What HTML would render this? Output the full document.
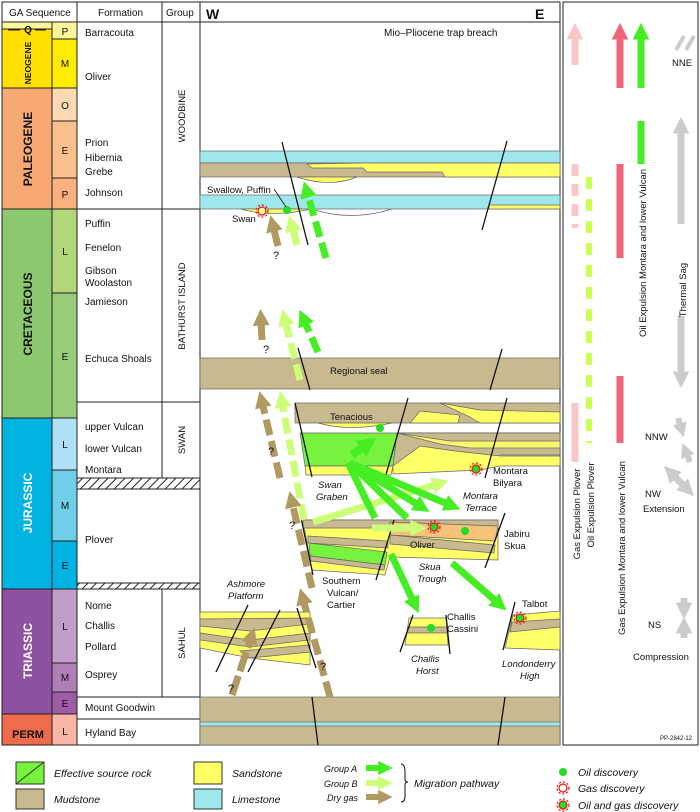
<!DOCTYPE html>
<html><head><meta charset="utf-8"><style>
html,body{margin:0;padding:0;background:#fff}
svg{display:block;font-family:"Liberation Sans",sans-serif}
</style></head><body>
<svg width="700" height="812" viewBox="0 0 700 812" xmlns="http://www.w3.org/2000/svg">
<defs>
<pattern id="hatch" width="6" height="6" patternUnits="userSpaceOnUse" patternTransform="rotate(45)"><rect width="6" height="6" fill="#fff"/><line x1="0" y1="0" x2="0" y2="6" stroke="#222" stroke-width="2"/></pattern>
<marker id="hA" markerWidth="2.4" markerHeight="2.4" refX="0.8" refY="1.2" orient="auto" markerUnits="strokeWidth"><path d="M0,0 L2.4,1.2 L0,2.4Z" fill="#44ee22"/></marker>
<marker id="hB" markerWidth="2.4" markerHeight="2.4" refX="0.8" refY="1.2" orient="auto" markerUnits="strokeWidth"><path d="M0,0 L2.4,1.2 L0,2.4Z" fill="#ccff77"/></marker>
<marker id="hT" markerWidth="2.4" markerHeight="2.4" refX="0.8" refY="1.2" orient="auto" markerUnits="strokeWidth"><path d="M0,0 L2.4,1.2 L0,2.4Z" fill="#b09a62"/></marker>
<marker id="hR" markerWidth="2.4" markerHeight="2.4" refX="0.8" refY="1.2" orient="auto" markerUnits="strokeWidth"><path d="M0,0 L2.4,1.2 L0,2.4Z" fill="#ee6677"/></marker>
<marker id="hP" markerWidth="2.4" markerHeight="2.4" refX="0.8" refY="1.2" orient="auto" markerUnits="strokeWidth"><path d="M0,0 L2.4,1.2 L0,2.4Z" fill="#f8c8c8"/></marker>
<marker id="hG" markerWidth="2.4" markerHeight="2.4" refX="0.8" refY="1.2" orient="auto" markerUnits="strokeWidth"><path d="M0,0 L2.4,1.2 L0,2.4Z" fill="#cccccc"/></marker>
<marker id="hGs" markerWidth="2.4" markerHeight="2.4" refX="1.6" refY="1.2" orient="auto" markerUnits="strokeWidth"><path d="M2.4,0 L0,1.2 L2.4,2.4Z" fill="#cccccc"/></marker>
</defs>

<g stroke="#222" stroke-width="1">
<rect x="2" y="22" width="50" height="7" fill="#fff59a"/>
<rect x="2" y="29" width="50" height="59" fill="#ffe000"/>
<rect x="2" y="88" width="50" height="121" fill="#f7a873"/>
<rect x="2" y="209" width="50" height="209" fill="#8cc96e"/>
<rect x="2" y="418" width="50" height="171" fill="#00b3e3"/>
<rect x="2" y="589" width="50" height="125" fill="#8f52a0"/>
<rect x="2" y="714" width="50" height="31" fill="#ef6b4c"/>
<rect x="52" y="22" width="25" height="17" fill="#fff59a"/>
<rect x="52" y="39" width="25" height="49" fill="#ffec00"/>
<rect x="52" y="88" width="25" height="33" fill="#fdd9b3"/>
<rect x="52" y="121" width="25" height="57" fill="#fcc08f"/>
<rect x="52" y="178" width="25" height="31" fill="#fbb07f"/>
<rect x="52" y="209" width="25" height="84" fill="#b3d678"/>
<rect x="52" y="293" width="25" height="125" fill="#97cd78"/>
<rect x="52" y="418" width="25" height="52" fill="#b0e0f5"/>
<rect x="52" y="470" width="25" height="71" fill="#6fcfe9"/>
<rect x="52" y="541" width="25" height="48" fill="#00b3e3"/>
<rect x="52" y="589" width="25" height="74" fill="#c09ec9"/>
<rect x="52" y="663" width="25" height="29" fill="#b17fb7"/>
<rect x="52" y="692" width="25" height="22" fill="#9e5ba6"/>
<rect x="52" y="714" width="25" height="31" fill="#f8b5a5"/>
<rect x="77" y="22" width="123" height="723" fill="#fff"/>
<rect x="2" y="2" width="558" height="20" fill="#fff"/>
<line x1="77" y1="2" x2="77" y2="745"/>
<line x1="162" y1="2" x2="162" y2="478"/>
<line x1="162" y1="589" x2="162" y2="697"/>
<line x1="200" y1="2" x2="200" y2="745"/>
<line x1="77" y1="209" x2="200" y2="209"/>
<line x1="77" y1="402" x2="200" y2="402"/>
<line x1="77" y1="589" x2="200" y2="589"/>
<line x1="77" y1="697" x2="200" y2="697"/>
<line x1="77" y1="719" x2="200" y2="719"/>
<rect x="77" y="478" width="123" height="11" fill="url(#hatch)"/>
<rect x="77" y="583" width="123" height="6" fill="url(#hatch)"/>
<rect x="2" y="2" width="558" height="743" fill="none"/>
<rect x="563" y="2" width="135" height="743" fill="#fff"/>
</g>
<line x1="8" y1="30" x2="20" y2="30" stroke="#222"/><line x1="35" y1="30" x2="46" y2="30" stroke="#222"/>
<g font-size="10" fill="#111">
<text x="9" y="16">GA Sequence</text><text x="98" y="16">Formation</text><text x="166" y="16">Group</text>
<text x="206" y="19" font-size="14" font-weight="bold">W</text><text x="535" y="19" font-size="14" font-weight="bold">E</text>
<text x="384" y="36">Mio–Pliocene trap breach</text>
<g text-anchor="middle"><text x="65" y="35">P</text><text x="65" y="67">M</text><text x="65" y="109">O</text><text x="65" y="154">E</text><text x="65" y="198">P</text><text x="65" y="255">L</text><text x="65" y="360">E</text><text x="65" y="448">L</text><text x="65" y="509">M</text><text x="65" y="569">E</text><text x="65" y="630">L</text><text x="65" y="681">M</text><text x="65" y="707">E</text><text x="65" y="735">L</text></g>
<text x="85" y="36">Barracouta</text><text x="85" y="80">Oliver</text><text x="85" y="146">Prion</text><text x="85" y="161">Hibernia</text><text x="85" y="175">Grebe</text><text x="85" y="196">Johnson</text>
<text x="85" y="227">Puffin</text><text x="85" y="251">Fenelon</text><text x="85" y="274">Gibson</text><text x="85" y="286">Woolaston</text><text x="85" y="305">Jamieson</text><text x="85" y="362">Echuca Shoals</text>
<text x="85" y="430">upper Vulcan</text><text x="85" y="452">lower Vulcan</text><text x="85" y="473">Montara</text><text x="85" y="543">Plover</text>
<text x="85" y="609">Nome</text><text x="85" y="629">Challis</text><text x="85" y="650">Pollard</text><text x="85" y="678">Osprey</text><text x="85" y="711">Mount Goodwin</text><text x="85" y="736">Hyland Bay</text>
<text x="28" y="738" font-size="11" font-weight="bold" text-anchor="middle">PERM</text>
<g font-weight="bold" text-anchor="middle">
<text transform="translate(31,63) rotate(-90)" font-size="8.5">NEOGENE</text>
<text x="28" y="33" font-size="10">Q</text>
<text transform="translate(32,149) rotate(-90)" font-size="12">PALEOGENE</text>
<text transform="translate(32,314) rotate(-90)" font-size="12">CRETACEOUS</text>
<text transform="translate(32,503) rotate(-90)" font-size="12" fill="#fff">JURASSIC</text>
<text transform="translate(32,651) rotate(-90)" font-size="12" fill="#fff">TRIASSIC</text>
</g>
<g text-anchor="middle" font-size="9.5">
<text transform="translate(185,116) rotate(-90)">WOODBINE</text>
<text transform="translate(185,306) rotate(-90)">BATHURST ISLAND</text>
<text transform="translate(185,440) rotate(-90)">SWAN</text>
<text transform="translate(185,643) rotate(-90)">SAHUL</text>
</g>
</g>

<g stroke="#666" stroke-width="0.7">
<rect x="200" y="151" width="360" height="12" fill="#9ee8ec"/>
<rect x="200" y="163" width="360" height="14" fill="#c8b98f"/>
<path d="M307,164 L312,168 L363,168 L367,172 L442,172 L445,177 L560,177 L560,163 L363,163Z" fill="#ffff66"/>
<path d="M297,177 Q330,188 357,177Z" fill="#ffff66"/>
<rect x="200" y="195" width="360" height="14" fill="#9ee8ec"/>
<path d="M489,205 L560,205 L560,209 L489,209Z" fill="#ffff66"/>
<path d="M241,209 Q270,218 312,209Z" fill="#ffff66"/>
<path d="M312,209 Q350,222 392,209" fill="none"/>
<rect x="200" y="358" width="360" height="31" fill="#c8b98f"/>
<path d="M295,403 L560,403 L560,423 L295,423Z" fill="#c8b98f"/>
<path d="M440,403 L480,410 L560,412 L560,423 L480,423 L470,417Z" fill="#ffff66"/>
<path d="M420,411 L460,415 L458,423 L410,423Z" fill="#ffff66"/>
<path d="M318,423 Q350,432 392,423Z" fill="#ffff66"/>
<path d="M300,433 L397,433 L393,466 L305,466Z" fill="#77f23f"/>
<path d="M305,466 L393,466 L391,475 L306,475Z" fill="#ffff66"/>
<path d="M397,433 L560,433 L560,455 L500,455 L493,460 L460,462 L420,466 L393,466Z" fill="#c8b98f"/>
<path d="M420,446 L455,451 L500,456 L560,456 L560,466 L500,466 L480,470 L393,474 L393,466Z" fill="#ffff66"/>
<path d="M397,433 L560,433 L560,448 L470,448 L440,444Z" fill="#ffff66" opacity="0.9"/>
<path d="M397,433 L560,433 L560,441 L450,441Z" fill="#c8b98f"/>
<path d="M303,520 L498,520 L498,560 L390,557 L385,575 L312,570Z" fill="#ffff66"/>
<path d="M303,520 L498,520 L498,530 L395,528 L303,528Z" fill="#c8b98f"/>
<path d="M390,522 L498,526 L495,541 L390,535Z" fill="#f8c27a"/>
<path d="M390,535 L495,545 L494,553 L390,544Z" fill="#c8b98f"/>
<path d="M308,536 L388,541 L388,548 L308,543Z" fill="#c8b98f"/>
<path d="M309,543 L387,552 L385,565 L310,556Z" fill="#77f23f"/>
<path d="M310,556 L385,565 L384,570 L311,561Z" fill="#c8b98f"/>
<path d="M200,612 L310,612 L310,665 L250,658 L200,648Z" fill="#ffff66"/>
<path d="M200,619 L310,618 L310,624 L250,631 L200,626Z" fill="#c8b98f"/>
<path d="M200,633 L250,640 L310,633 L310,640 L250,647 L200,640Z" fill="#c8b98f"/>
<path d="M240,651 L310,645 L310,652 L250,658Z" fill="#c8b98f"/>
<path d="M409,618 L446,618 L448,645 L405,645Z" fill="#ffff66"/>
<path d="M408,627 L447,627 L447,633 L407,633Z" fill="#c8b98f"/>
<path d="M513,615 L560,611 L560,650 L505,648Z" fill="#ffff66"/>
<path d="M512,622 L560,619 L560,627 L510,632Z" fill="#c8b98f"/>
<rect x="200" y="697" width="360" height="48" fill="#c8b98f"/>
<rect x="200" y="722" width="360" height="4" fill="#9ee8ec"/>
</g>
<g stroke="#111" stroke-width="1.3">
<line x1="282" y1="142" x2="308" y2="245"/><line x1="507" y1="141" x2="482" y2="230"/>
<line x1="298" y1="348" x2="310" y2="390"/><line x1="502" y1="349" x2="490" y2="390"/>
<line x1="295" y1="403" x2="312" y2="477"/><line x1="408" y1="398" x2="385" y2="478"/>
<line x1="507" y1="398" x2="485" y2="478"/>
<line x1="300" y1="513" x2="313" y2="575"/><line x1="394" y1="520" x2="376" y2="580"/>
<line x1="505" y1="513" x2="485" y2="568"/>
<line x1="248" y1="605" x2="216" y2="672"/><line x1="280" y1="610" x2="248" y2="672"/>
<line x1="297" y1="608" x2="316" y2="668"/>
<line x1="413" y1="615" x2="400" y2="652"/><line x1="446" y1="615" x2="450" y2="654"/>
<line x1="515" y1="602" x2="503" y2="650"/>
<line x1="312" y1="697" x2="318" y2="745"/><line x1="505" y1="697" x2="498" y2="745"/>
</g>
<g fill="none" stroke-width="7">
<line x1="326" y1="258" x2="307" y2="192" stroke="#44ee22" stroke-dasharray="16,6" marker-end="url(#hA)"/>
<line x1="297" y1="245" x2="292" y2="226" stroke="#ccff77" marker-end="url(#hB)"/>
<line x1="278" y1="246" x2="273" y2="226" stroke="#b09a62" marker-end="url(#hT)"/>
<line x1="318" y1="352" x2="304" y2="320" stroke="#44ee22" stroke-dasharray="16,6" marker-end="url(#hA)"/>
<line x1="300" y1="380" x2="285" y2="320" stroke="#ccff77" stroke-dasharray="16,6" marker-end="url(#hB)"/>
<line x1="262" y1="340" x2="261" y2="320" stroke="#b09a62" marker-end="url(#hT)"/>
<line x1="304" y1="520" x2="282" y2="402" stroke="#ccff77" stroke-dasharray="16,6" marker-end="url(#hB)"/>
<line x1="280" y1="478" x2="262" y2="402" stroke="#b09a62" stroke-dasharray="16,6" marker-end="url(#hT)"/>
<line x1="312" y1="588" x2="292" y2="502" stroke="#b09a62" stroke-dasharray="16,6" marker-end="url(#hT)"/>
<line x1="330" y1="697" x2="303" y2="599" stroke="#b09a62" stroke-dasharray="16,6" marker-end="url(#hT)"/>
<line x1="232" y1="695" x2="251" y2="638" stroke="#b09a62" stroke-dasharray="20,5" marker-end="url(#hT)"/>
<line x1="313" y1="522" x2="438" y2="484" stroke="#ccff77" marker-end="url(#hB)"/>
<line x1="372" y1="528" x2="416" y2="528" stroke="#ccff77" marker-end="url(#hB)"/>
<line x1="352" y1="455" x2="366" y2="445" stroke="#44ee22" stroke-width="8" marker-end="url(#hA)"/>
<line x1="348" y1="463" x2="375" y2="518" stroke="#44ee22"/>
<line x1="350" y1="463" x2="407" y2="518" stroke="#44ee22"/>
<line x1="350" y1="463" x2="420" y2="506" stroke="#44ee22" marker-end="url(#hA)"/>
<line x1="350" y1="463" x2="450" y2="505" stroke="#44ee22" marker-end="url(#hA)"/>
<line x1="391" y1="554" x2="414" y2="603" stroke="#44ee22" marker-end="url(#hA)"/>
<line x1="452" y1="563" x2="498" y2="603" stroke="#44ee22" marker-end="url(#hA)"/>
</g>
<g>
<circle cx="380" cy="428" r="4" fill="#22dd22"/>
<circle cx="287" cy="210" r="4" fill="#22dd22"/>
<circle cx="465" cy="531" r="4" fill="#22dd22"/>
<circle cx="431" cy="628" r="4" fill="#22dd22"/>
<g stroke="#ee1111" stroke-width="1.2">
<circle cx="262" cy="211" r="4" fill="#ffff99"/>
<circle cx="476" cy="469" r="4" fill="#22dd22"/>
<circle cx="434" cy="527" r="4" fill="#22dd22"/>
<circle cx="520" cy="618" r="4" fill="#22dd22"/>
</g>
<g stroke="#ee1111" stroke-width="1.2" stroke-dasharray="2,2" fill="none">
<circle cx="262" cy="211" r="6"/><circle cx="476" cy="469" r="6"/><circle cx="434" cy="527" r="6"/><circle cx="520" cy="618" r="6"/>
</g>
</g>
<g font-size="9.5" fill="#111">
<text x="207" y="193">Swallow, Puffin</text><line x1="274" y1="189" x2="286" y2="207" stroke="#111" stroke-width="0.8"/>
<text x="232" y="222">Swan</text>
<text x="273" y="259" font-size="11">?</text><text x="263" y="353" font-size="11">?</text>
<text x="268" y="455" font-size="11">?</text><text x="289" y="529" font-size="11">?</text>
<text x="320" y="670" font-size="11">?</text><text x="228" y="692" font-size="11">?</text>
<text x="330" y="374">Regional seal</text>
<text x="330" y="420">Tenacious</text>
<text x="493" y="474">Montara</text><text x="493" y="486">Bilyara</text>
<text x="504" y="537">Jabiru</text><text x="504" y="549">Skua</text>
<text x="410" y="548">Oliver</text>
<text x="322" y="584">Southern</text><text x="327" y="596">Vulcan/</text><text x="327" y="608">Cartier</text>
<text x="447" y="620">Challis</text><text x="447" y="632">Cassini</text>
<text x="522" y="607">Talbot</text>
<g font-style="italic">
<text x="318" y="488">Swan</text><text x="316" y="500">Graben</text>
<text x="463" y="499">Montara</text><text x="465" y="511">Terrace</text>
<text x="419" y="570">Skua</text><text x="417" y="582">Trough</text>
<text x="227" y="587">Ashmore</text><text x="228" y="599">Platform</text>
<text x="411" y="662">Challis</text><text x="416" y="674">Horst</text>
<text x="502" y="667">Londonderry</text><text x="520" y="679">High</text>
</g>
</g>

<g fill="none">
<line x1="575" y1="65" x2="575" y2="34" stroke="#f8c8c8" stroke-width="7" marker-end="url(#hP)"/>
<line x1="575" y1="164" x2="575" y2="228" stroke="#f8c8c8" stroke-width="7" stroke-dasharray="12,8"/>
<line x1="575" y1="403" x2="575" y2="462" stroke="#f8c8c8" stroke-width="7"/>
<line x1="589" y1="177" x2="589" y2="443" stroke="#ccff55" stroke-width="6" stroke-dasharray="12,10"/>
<line x1="620" y1="88" x2="620" y2="34" stroke="#ee6677" stroke-width="7" marker-end="url(#hR)"/>
<line x1="620" y1="164" x2="620" y2="258" stroke="#ee6677" stroke-width="7"/>
<line x1="620" y1="376" x2="620" y2="443" stroke="#ee6677" stroke-width="7"/>
<line x1="641" y1="88" x2="641" y2="34" stroke="#44ee22" stroke-width="7" marker-end="url(#hA)"/>
<line x1="641" y1="121" x2="641" y2="164" stroke="#44ee22" stroke-width="7"/>
<line x1="681" y1="224" x2="681" y2="128" stroke="#cccccc" stroke-width="7" marker-end="url(#hG)"/>
<line x1="681" y1="316" x2="681" y2="377" stroke="#cccccc" stroke-width="7" marker-end="url(#hG)"/>
<line x1="672" y1="474" x2="686" y2="488" stroke="#cccccc" stroke-width="7" marker-end="url(#hG)" marker-start="url(#hGs)"/>
<line x1="684" y1="598" x2="684" y2="608" stroke="#cccccc" stroke-width="7" marker-end="url(#hG)"/>
<line x1="684" y1="638" x2="684" y2="628" stroke="#cccccc" stroke-width="7" marker-end="url(#hG)"/>
<line x1="678" y1="418" x2="681" y2="428" stroke="#cccccc" stroke-width="6" marker-end="url(#hG)"/>
<line x1="690" y1="462" x2="686" y2="452" stroke="#cccccc" stroke-width="6" marker-end="url(#hG)"/>
<line x1="676" y1="50" x2="684" y2="36" stroke="#cccccc" stroke-width="4"/>
<line x1="686" y1="50" x2="694" y2="36" stroke="#cccccc" stroke-width="4"/>
</g>
<g font-size="9.5" fill="#111">
<text x="672" y="66">NNE</text>
<text x="645" y="440">NNW</text>
<text x="645" y="497">NW</text><text x="643" y="512">Extension</text>
<text x="648" y="628">NS</text><text x="633" y="660">Compression</text>
<text transform="translate(686,290) rotate(-90)" text-anchor="middle">Thermal Sag</text>
<text transform="translate(646,253) rotate(-90)" text-anchor="middle">Oil Expulsion Montara and lower Vulcan</text>
<text transform="translate(625,548) rotate(-90)" text-anchor="middle">Gas Expulsion Montara and lower Vulcan</text>
<text transform="translate(580,514) rotate(-90)" text-anchor="middle">Gas Expulsion Plover</text>
<text transform="translate(594,505) rotate(-90)" text-anchor="middle">Oil Expulsion Plover</text>
<text x="660" y="740" font-size="6">PP-2842-12</text>
</g>

<g stroke="#333" stroke-width="1">
<rect x="16" y="762" width="28" height="22" fill="#77f23f"/><line x1="16" y1="784" x2="44" y2="762"/>
<rect x="16" y="789" width="28" height="20" fill="#c8b98f"/>
<rect x="194" y="762" width="28" height="22" fill="#ffff66"/>
<rect x="194" y="789" width="28" height="20" fill="#9ee8ec"/>
</g>
<g fill="none" stroke-width="6">
<line x1="366" y1="768" x2="383" y2="768" stroke="#44ee22" marker-end="url(#hA)"/>
<line x1="366" y1="783" x2="383" y2="783" stroke="#ccff77" marker-end="url(#hB)"/>
<line x1="366" y1="797" x2="383" y2="797" stroke="#b09a62" marker-end="url(#hT)"/>
</g>
<path d="M401,764 Q405,764 405,772 L405,779 Q405,782 408,782 Q405,782 405,785 L405,796 Q405,802 401,802" fill="none" stroke="#111"/>
<circle cx="563" cy="772" r="4" fill="#22dd22"/>
<circle cx="563" cy="788" r="4" fill="#fff" stroke="#ee1111" stroke-width="1.2"/>
<circle cx="563" cy="788" r="6" fill="none" stroke="#ee1111" stroke-width="1.2" stroke-dasharray="2,2"/>
<circle cx="563" cy="805" r="4" fill="#22dd22" stroke="#ee1111" stroke-width="1.2"/>
<circle cx="563" cy="805" r="6" fill="none" stroke="#ee1111" stroke-width="1.2" stroke-dasharray="2,2"/>
<g font-size="10.5" font-style="italic" fill="#111">
<text x="54" y="777">Effective source rock</text><text x="54" y="803">Mudstone</text>
<text x="232" y="777">Sandstone</text><text x="232" y="803">Limestone</text>
<text x="324" y="772" font-size="9">Group A</text><text x="324" y="787" font-size="9">Group B</text><text x="327" y="801" font-size="9">Dry gas</text>
<text x="414" y="787">Migration pathway</text>
<text x="578" y="776">Oil discovery</text><text x="578" y="792">Gas discovery</text><text x="578" y="809">Oil and gas discovery</text>
</g>
</svg>
</body></html>
